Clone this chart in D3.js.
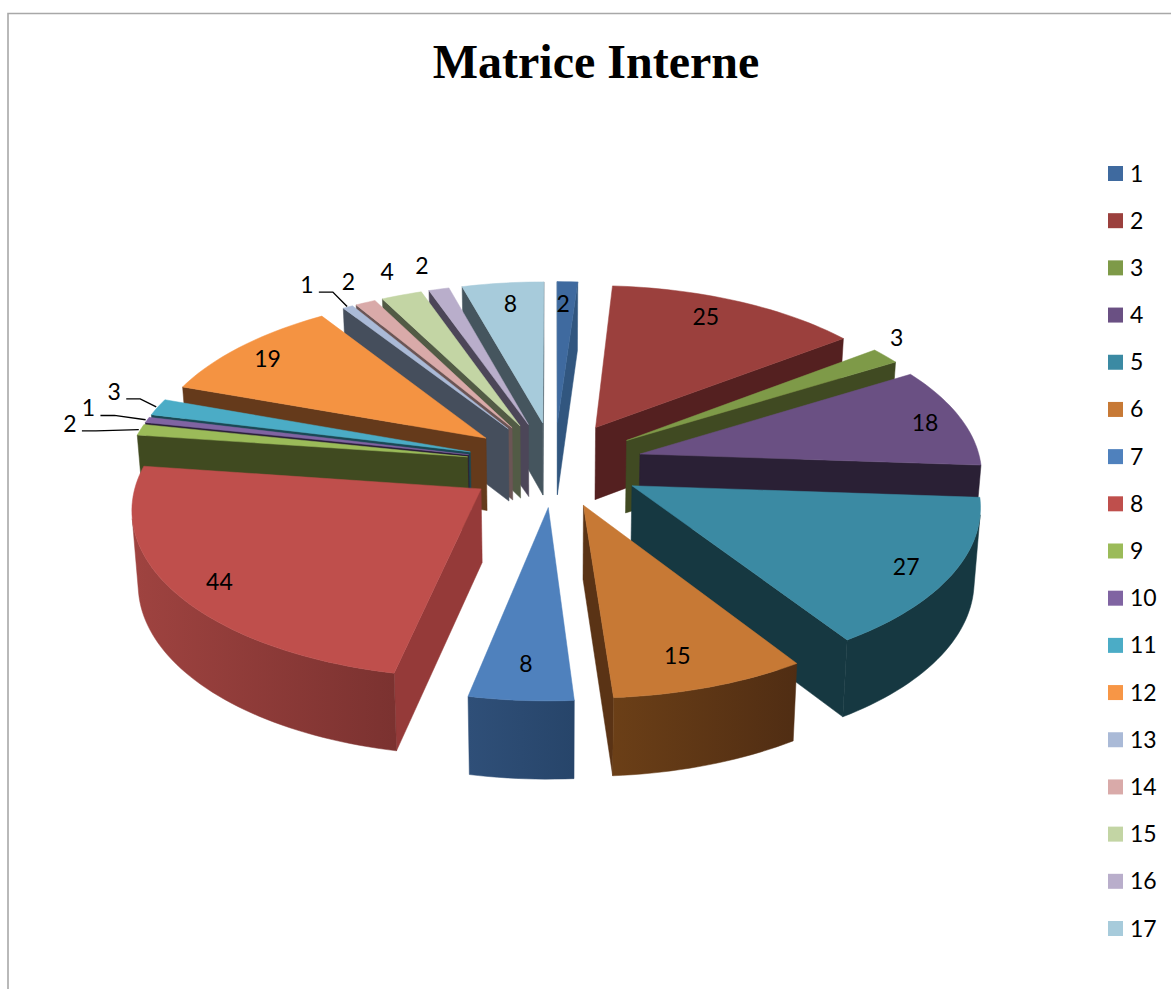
<!DOCTYPE html>
<html><head><meta charset="utf-8">
<script src="https://cdn.jsdelivr.net/npm/d3@7"></script>
<style>html,body{margin:0;padding:0;background:#fff;overflow:hidden}svg{display:block}</style>
</head><body><svg id="c" width="1171" height="989"></svg>
<script>
const title = "Matrice Interne";
const categories = ["1","2","3","4","5","6","7","8","9","10","11","12","13","14","15","16","17"];
const values = [2,25,3,18,27,15,8,44,2,1,3,19,1,2,4,2,8];
const topColors = ["#3f6a9f","#9b403d","#7e9a48","#6a5083","#3b8aa3","#c77935","#4f81bd","#bf4f4c","#9bbb59","#8064a2","#4bacc6","#f49342","#aabad7","#d9aaa9","#c3d5a4","#b9aecb","#a7cbdb"];
const legendColors = ["#3f6a9f","#9b403d","#7e9a48","#6a5083","#3b8aa3","#c77935","#4f81bd","#bf4f4c","#9bbb59","#8064a2","#4bacc6","#f79646","#aabad7","#d9aaa9","#c3d5a4","#b9aecb","#a7cbdb"];
const wallColors = ["#31567f","#542020","#404a22","#2a2035","#163841","#5a3315","#2b4a70","#953a39","#404a20","#2a1e38","#1a4854","#653a1b","#454e5c","#6b5555","#525b45","#4c4658","#45555e"];
const rimStart = ["#31567f","#542020","#404a22","#2a2035","#163841","#502d13","#27456a","#7b3230","#404a20","#2a1e38","#1a4854","#653a1b","#454e5c","#6b5555","#525b45","#4c4658","#45555e"];
const rimEnd = ["#31567f","#542020","#404a22","#2a2035","#163841","#6b3f17","#2f4f78","#a84744","#404a20","#2a1e38","#1a4854","#653a1b","#454e5c","#6b5555","#525b45","#4c4658","#45555e"];
const labelFrac = [.83,.845,1.115,.885,.875,.835,.83,.875,1.22,1.2,1.17,.875,1.22,1.17,1.19,1.19,.84];
const labelTurn = [-.6,-2.7,-4,1,1.4,2,0,-1.4,0,1.5,2.7,-1,-1.6,1,1,-.3,.4];
const leaderSlices = ["9","10","11","13"];

const W=1171,H=989, cx=554.5, cy=464, k=.48, f=3300, r=341, e=88.5, h=73, converge=.985;
const svg=d3.select("#c");
const defs=svg.append("defs");
svg.append("path").attr("d",d3.line()([[8,989],[8,13.5],[1171,13.5]])).attr("fill","none").attr("stroke","#a8a8a8").attr("stroke-width",1.6);
svg.append("text").attr("x",596).attr("y",78).attr("text-anchor","middle")
  .attr("font-family","'Liberation Serif',serif").attr("font-weight","bold").attr("font-size",48).text(title);

const rad=d=>d*Math.PI/180;
function project(X,Yfront){const s=f/(f-Yfront);return {x:cx+X*s,y:cy+k*Yfront*s,s};}
function topPt(m,a,rho){
  const X=e*Math.sin(m)+rho*Math.sin(a), Y=-(e*Math.cos(m)+rho*Math.cos(a));
  const p=project(X,Y);return [p.x,p.y,p.s];
}
function botPt(t){return [cx+(t[0]-cx)*converge,t[1]+h*Math.sqrt(t[2])];}

const pie=d3.pie().sort(null).value(d=>d)(values);
const slices=pie.map((p,i)=>({i,a0:p.startAngle,a1:p.endAngle,m:(p.startAngle+p.endAngle)/2}));
const order=slices.slice().sort((a,b)=>Math.cos(b.m)-Math.cos(a.m));
const g=svg.append("g");
order.forEach(d=>{
  const i=d.i, n=Math.max(2,Math.ceil((d.a1-d.a0)/rad(1.5)));
  const angs=d3.range(n+1).map(j=>d.a0+(d.a1-d.a0)*j/n);
  const apex=topPt(d.m,0,0), rim=angs.map(a=>topPt(d.m,a,r));
  const ab=botPt(apex);
  const q=a=>a.map(p=>[p[0],p[1]]);
  const line=d3.line();
  const startW=[apex,rim[0],botPt(rim[0]),ab], endW=[apex,rim[n],botPt(rim[n]),ab];
  if(d3.polygonArea(q(startW))>0) g.append("path").attr("d",line(q(startW))+"Z").attr("fill",wallColors[i]).attr("stroke",wallColors[i]).attr("stroke-width",.5);
  if(d3.polygonArea(q(endW))<0) g.append("path").attr("d",line(q(endW))+"Z").attr("fill",i===7?rimEnd[i]:wallColors[i]).attr("stroke",wallColors[i]).attr("stroke-width",.5);
  // rim wall: one path over the run of camera-facing segments, shaded by a gradient
  const vis=d3.range(n).filter(j=>d3.polygonArea(q([rim[j],rim[j+1],botPt(rim[j+1]),botPt(rim[j])]))>0);
  if(vis.length){
    const from=vis[0], to=vis[vis.length-1]+1;
    const run=rim.slice(from,to+1);
    const shade=d3.scaleLinear().domain([d.a0,d.a1]).range([rimStart[i],rimEnd[i]]);
    const id="rim"+i;
    const gr=defs.append("linearGradient").attr("id",id).attr("gradientUnits","userSpaceOnUse")
      .attr("x1",run[0][0]).attr("y1",0).attr("x2",run[run.length-1][0]).attr("y2",0);
    gr.append("stop").attr("offset",0).attr("stop-color",shade(angs[from]));
    gr.append("stop").attr("offset",1).attr("stop-color",shade(angs[to]));
    const outline=[...q(run),...run.slice().reverse().map(botPt)];
    g.append("path").attr("d",line(outline)+"Z").attr("fill",`url(#${id})`).attr("stroke",`url(#${id})`).attr("stroke-width",.5);
  }
  g.append("path").attr("d",line(q([apex,...rim]))+"Z").attr("fill",topColors[i]).attr("stroke",topColors[i]).attr("stroke-width",.5);
});

// data labels
slices.forEach(d=>{
  const i=d.i, a=d.m+rad(labelTurn[i]);
  const p=topPt(d.m,a,r*labelFrac[i]);
  svg.append("text").attr("x",p[0]).attr("y",p[1]+8).attr("text-anchor","middle")
    .attr("font-family","Lato,sans-serif").attr("font-size",23).attr("fill","#000").text(values[i]);
  if(leaderSlices.includes(categories[i])){
    const t=topPt(d.m,d.m,r*1.005);
    const sx=p[0]+12, sy=p[1]+7;
    svg.append("path").attr("d",d3.line()([[sx,sy],[sx+14,sy],[t[0],t[1]]])).attr("fill","none").attr("stroke","#000").attr("stroke-width",1.4);
  }
});

// legend
const ly=d3.scalePoint().domain(categories).range([173.5,928.5]);
const leg=svg.append("g").selectAll("g").data(categories).join("g").attr("transform",d=>`translate(1108,${ly(d)})`);
leg.append("rect").attr("x",0).attr("y",-7.5).attr("width",15).attr("height",15).attr("fill",(d,i)=>legendColors[i]);
leg.append("text").attr("x",22).attr("y",8).attr("font-family","Lato,sans-serif").attr("font-size",23).attr("fill","#000").text(d=>d);
</script></body></html>
